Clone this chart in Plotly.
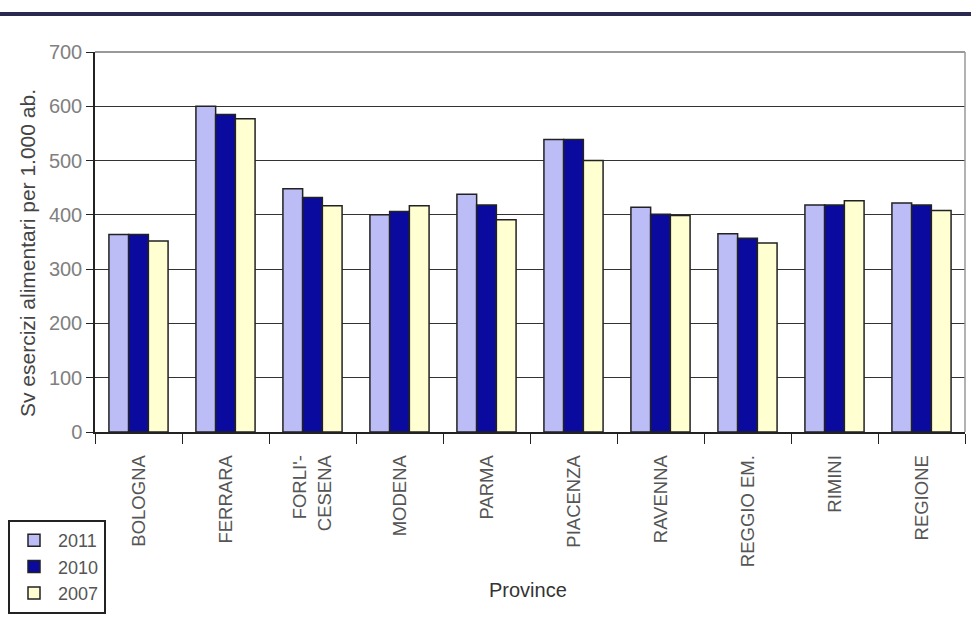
import plotly.graph_objects as go

categories = ["BOLOGNA", "FERRARA", "FORLI'-<br>CESENA", "MODENA", "PARMA",
              "PIACENZA", "RAVENNA", "REGGIO EM.", "RIMINI", "REGIONE"]
v2011 = [364, 600, 448, 400, 438, 539, 414, 365, 418, 422]
v2010 = [364, 585, 432, 406, 418, 539, 401, 357, 418, 418]
v2007 = [352, 577, 417, 417, 391, 500, 399, 348, 426, 408]
y_ticks = [0, 100, 200, 300, 400, 500, 600, 700]

series = [("2011", v2011, "#BCBCF6"), ("2010", v2010, "#0A0A9E"), ("2007", v2007, "#FFFFD2")]

W, H = 971, 626
L, R, T, B = 95, 6, 52, 194
PW, PH = W - L - R, H - T - B

def px(xp):
    return (xp - L) / PW

def py(yp):
    return (H - B - yp) / PH

fig = go.Figure()
for name, vals, col in series:
    fig.add_trace(go.Bar(x=categories, y=vals, name=name,
                         marker=dict(color=col, line=dict(color="#222222", width=1.5))))

fig.update_layout(
    width=W, height=H,
    margin=dict(l=L, r=R, t=T, b=B, autoexpand=False),
    paper_bgcolor="white", plot_bgcolor="white",
    barmode="group", bargap=0.32, bargroupgap=0,
    font=dict(family="Liberation Sans, Arial, sans-serif", color="#555555"),
    showlegend=True,
    legend=dict(x=px(8), y=py(520), xanchor="left", yanchor="top",
                bordercolor="#222222", borderwidth=2, bgcolor="white",
                font=dict(size=18, color="#555555"), tracegroupgap=0,
                itemwidth=38),
    xaxis=dict(tickangle=-90, tickfont=dict(size=18.5, color="#555555"),
               ticks="outside", tickson="boundaries", ticklen=10, tickcolor="#222",
               ticklabelstandoff=14,
               showline=True, linecolor="#222222", linewidth=1.5,
               automargin=False),
    yaxis=dict(range=[0, 700], tickvals=y_ticks, ticks="outside", ticklen=7, tickcolor="#222",
               showline=True, linecolor="#222222", linewidth=1.5,
               showgrid=True, gridcolor="#333333", gridwidth=1,
               tickfont=dict(size=20, color="#808080"),
               automargin=False),
    annotations=[
        dict(text="Sv esercizi alimentari per 1.000 ab.", textangle=-90,
             xref="paper", yref="paper", x=px(27), y=py(253),
             xanchor="center", yanchor="middle", showarrow=False,
             font=dict(size=21, color="#444444")),
        dict(text="Province", xref="paper", yref="paper", x=px(528), y=py(590),
             xanchor="center", yanchor="middle", showarrow=False,
             font=dict(size=20, color="#333333")),
    ],
)
# plot area border (top and right)
fig.add_shape(type="line", xref="paper", yref="paper", x0=0, x1=1, y0=1, y1=1,
              line=dict(color="#777777", width=1.5))
fig.add_shape(type="line", xref="paper", yref="paper", x0=1, x1=1, y0=0, y1=1,
              line=dict(color="#999999", width=1.5))
# top separator line of the page
fig.add_shape(type="line", xref="paper", yref="paper", x0=px(0), x1=px(W),
              y0=py(14), y1=py(14),
              line=dict(color="#2a2a50", width=4))

fig.write_html("out.html", config={"displayModeBar": False},
               post_script="document.body.style.margin='0';")
